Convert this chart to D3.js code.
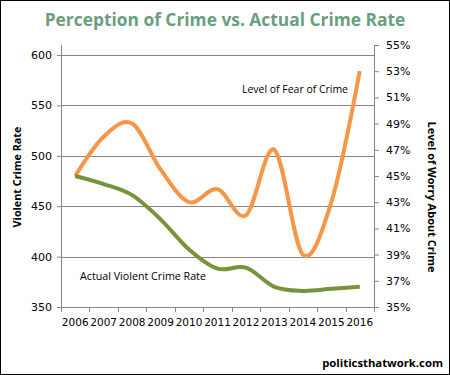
<!DOCTYPE html>
<html>
<head>
<meta charset="utf-8">
<script src="https://cdn.jsdelivr.net/npm/d3@7"></script>
<style>
  body { margin: 0; background: #fff; }
  svg { display: block; }
  .tick text { font-family: "DejaVu Sans", sans-serif; font-size: 11px; fill: #000; }
  .domain, .tick line { stroke: #868686; }
</style>
</head>
<body>
<div id="chart"></div>
<script>
var width = 450, height = 375;

var years = ["2006","2007","2008","2009","2010","2011","2012","2013","2014","2015","2016"];
var crimeRate = [480, 472, 461, 437, 407, 388, 389, 370, 366, 368, 370];
var fearLevel = [45, 48, 49, 45.5, 43, 44, 42, 47, 39, 43, 53];
var leftTicks = [350, 400, 450, 500, 550, 600];
var rightTicks = [35, 37, 39, 41, 43, 45, 47, 49, 51, 53, 55];

var plot = {left: 61, right: 374, top: 45, bottom: 307};

var svg = d3.select("#chart").append("svg")
    .attr("width", width)
    .attr("height", height);

svg.append("rect")
    .attr("x", 0.5).attr("y", 0.5)
    .attr("width", width - 1).attr("height", height - 1)
    .attr("fill", "#fff")
    .attr("stroke", "#000");

var x = d3.scaleBand()
    .domain(years)
    .range([plot.left, plot.right]);

var yLeft = d3.scaleLinear()
    .domain([350, 610])
    .range([plot.bottom, plot.top]);

var yRight = d3.scaleLinear()
    .domain([35, 55])
    .range([plot.bottom, plot.top]);

// gridlines
svg.append("g")
  .selectAll("line")
  .data(leftTicks.slice(1))
  .enter().append("line")
    .attr("x1", plot.left)
    .attr("x2", plot.right)
    .attr("y1", function(d) { return Math.round(yLeft(d)) + 0.5; })
    .attr("y2", function(d) { return Math.round(yLeft(d)) + 0.5; })
    .attr("stroke", "#868686");

// axes
svg.append("g")
    .attr("transform", "translate(" + plot.left + ",0)")
    .call(d3.axisLeft(yLeft).tickValues(leftTicks).tickSize(4).tickPadding(5).tickSizeOuter(0))
    .call(function(g) { g.select(".domain").attr("d", "M0.5," + plot.top + "V" + plot.bottom); });

svg.append("g")
    .attr("transform", "translate(" + plot.right + ",0)")
    .call(d3.axisRight(yRight).tickValues(rightTicks).tickFormat(function(d) { return d + "%"; })
      .tickSize(5).tickPadding(7).tickSizeOuter(0));

var xAxis = svg.append("g")
    .attr("transform", "translate(0," + plot.bottom + ")")
    .call(d3.axisBottom(x).tickSize(0).tickPadding(12).tickSizeOuter(0));
xAxis.selectAll(".tick text").style("font-size", "10.5px");

// tick marks at band edges
svg.append("g")
  .selectAll("line")
  .data(years.concat(["end"]))
  .enter().append("line")
    .attr("x1", function(d, i) { return Math.round(plot.left + i * x.bandwidth()) + 0.5; })
    .attr("x2", function(d, i) { return Math.round(plot.left + i * x.bandwidth()) + 0.5; })
    .attr("y1", plot.bottom)
    .attr("y2", plot.bottom + 5)
    .attr("stroke", "#868686");

var cx = function(d, i) { return x(years[i]) + x.bandwidth() / 2; };

var fearLine = d3.line()
    .x(cx)
    .y(function(d) { return yRight(d); })
    .curve(d3.curveCardinal.tension(0));

var crimeLine = d3.line()
    .x(cx)
    .y(function(d) { return yLeft(d); })
    .curve(d3.curveCardinal.tension(0));

svg.append("path")
    .datum(fearLevel)
    .attr("d", fearLine)
    .attr("fill", "none")
    .attr("stroke", "#F79646")
    .attr("stroke-width", 4)
    .attr("stroke-linejoin", "round");

svg.append("path")
    .datum(crimeRate)
    .attr("d", crimeLine)
    .attr("fill", "none")
    .attr("stroke", "#77933C")
    .attr("stroke-width", 4)
    .attr("stroke-linejoin", "round");

// fit text to a target width
function fit(sel, w) {
  var len = sel.node().getComputedTextLength();
  var fs = parseFloat(sel.style("font-size"));
  sel.style("font-size", (fs * w / len) + "px");
  return sel;
}

var font = "'Open Sans', sans-serif";

fit(svg.append("text")
    .attr("x", 225).attr("y", 26)
    .attr("text-anchor", "middle")
    .style("font-family", font).style("font-weight", "bold").style("font-size", "18px")
    .attr("fill", "#6B9E80")
    .text("Perception of Crime vs. Actual Crime Rate"), 361);

fit(svg.append("text")
    .attr("x", 295).attr("y", 93)
    .attr("text-anchor", "middle")
    .style("font-family", font).style("font-size", "11px")
    .text("Level of Fear of Crime"), 106);

fit(svg.append("text")
    .attr("x", 143).attr("y", 280)
    .attr("text-anchor", "middle")
    .style("font-family", font).style("font-size", "11px")
    .text("Actual Violent Crime Rate"), 126);

fit(svg.append("text")
    .attr("transform", "translate(21,177) rotate(-90)")
    .attr("text-anchor", "middle")
    .style("font-family", font).style("font-weight", "bold").style("font-size", "11px")
    .text("Violent Crime Rate"), 101);

fit(svg.append("text")
    .attr("transform", "translate(428,197) rotate(90)")
    .attr("text-anchor", "middle")
    .style("font-family", font).style("font-weight", "bold").style("font-size", "11px")
    .text("Level of Worry About Crime"), 151);

fit(svg.append("text")
    .attr("x", 443).attr("y", 367)
    .attr("text-anchor", "end")
    .style("font-family", font).style("font-weight", "bold").style("font-size", "12px")
    .text("politicsthatwork.com"), 121);
</script>
</body>
</html>
